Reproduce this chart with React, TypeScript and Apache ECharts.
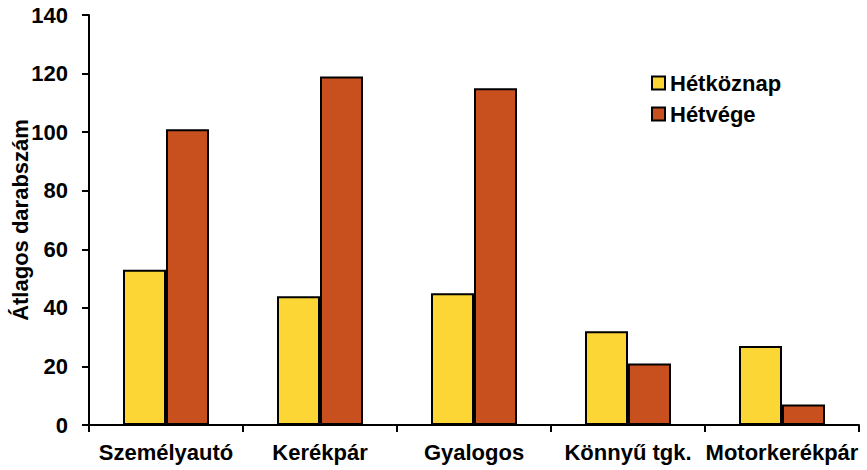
import React, { useEffect, useRef } from "react";
import * as echarts from "echarts";

const categories = ["Személyautó", "Kerékpár", "Gyalogos", "Könnyű tgk.", "Motorkerékpár"];
const weekday = [53, 44, 45, 32, 27];
const weekend = [101, 119, 115, 21, 7];
const seriesNames = ["Hétköznap", "Hétvége"];

export default function App() {
  const ref = useRef<HTMLDivElement>(null);
  useEffect(() => {
    if (!ref.current) return;
    const chart = echarts.init(ref.current, undefined, { renderer: "svg" });
    const font = "'Liberation Sans', Arial, sans-serif";
    chart.setOption({
      animation: false,
      backgroundColor: "#ffffff",
      grid: { left: 89, right: 8, top: 15, bottom: 45, containLabel: false, outerBoundsMode: "none" },
      legend: {
        orient: "vertical",
        left: 651,
        top: 72,
        padding: 0,
        itemWidth: 13,
        itemHeight: 13,
        itemGap: 9,
        icon: "rect",
        textStyle: { fontFamily: font, fontSize: 22, fontWeight: "bold", color: "#000" },
        data: seriesNames,
      },
      xAxis: {
        type: "category",
        data: categories,
        axisLine: { lineStyle: { color: "#000", width: 2 } },
        axisTick: { show: true, length: 7, lineStyle: { color: "#000", width: 2 } },
        axisLabel: { color: "#000", fontFamily: font, fontSize: 22, fontWeight: "bold", margin: 16, interval: 0 },
      },
      yAxis: {
        type: "value",
        min: 0,
        max: 140,
        interval: 20,
        name: "Átlagos darabszám",
        nameLocation: "middle",
        nameGap: 58,
        nameMoveOverlap: false,
        nameTextStyle: { color: "#000", fontFamily: font, fontSize: 22, fontWeight: "bold" },
        axisLine: { show: true, lineStyle: { color: "#000", width: 2 } },
        axisTick: { show: true, length: 7, lineStyle: { color: "#000", width: 2 } },
        axisLabel: { color: "#000", fontFamily: font, fontSize: 22, fontWeight: "bold", margin: 21 },
        splitLine: { show: false },
      },
      series: [
        {
          name: seriesNames[0],
          type: "bar",
          data: weekday,
          barWidth: 43,
          barGap: "0%",
          itemStyle: { color: "#FCD634", borderColor: "#000", borderWidth: 2 },
        },
        {
          name: seriesNames[1],
          type: "bar",
          data: weekend,
          barWidth: 43,
          barGap: "0%",
          itemStyle: { color: "#C8501F", borderColor: "#000", borderWidth: 2 },
        },
      ],
    });
    return () => chart.dispose();
  }, []);
  return <div ref={ref} style={{ width: 867, height: 470, position: "absolute", left: 0, top: 0 }} />;
}
